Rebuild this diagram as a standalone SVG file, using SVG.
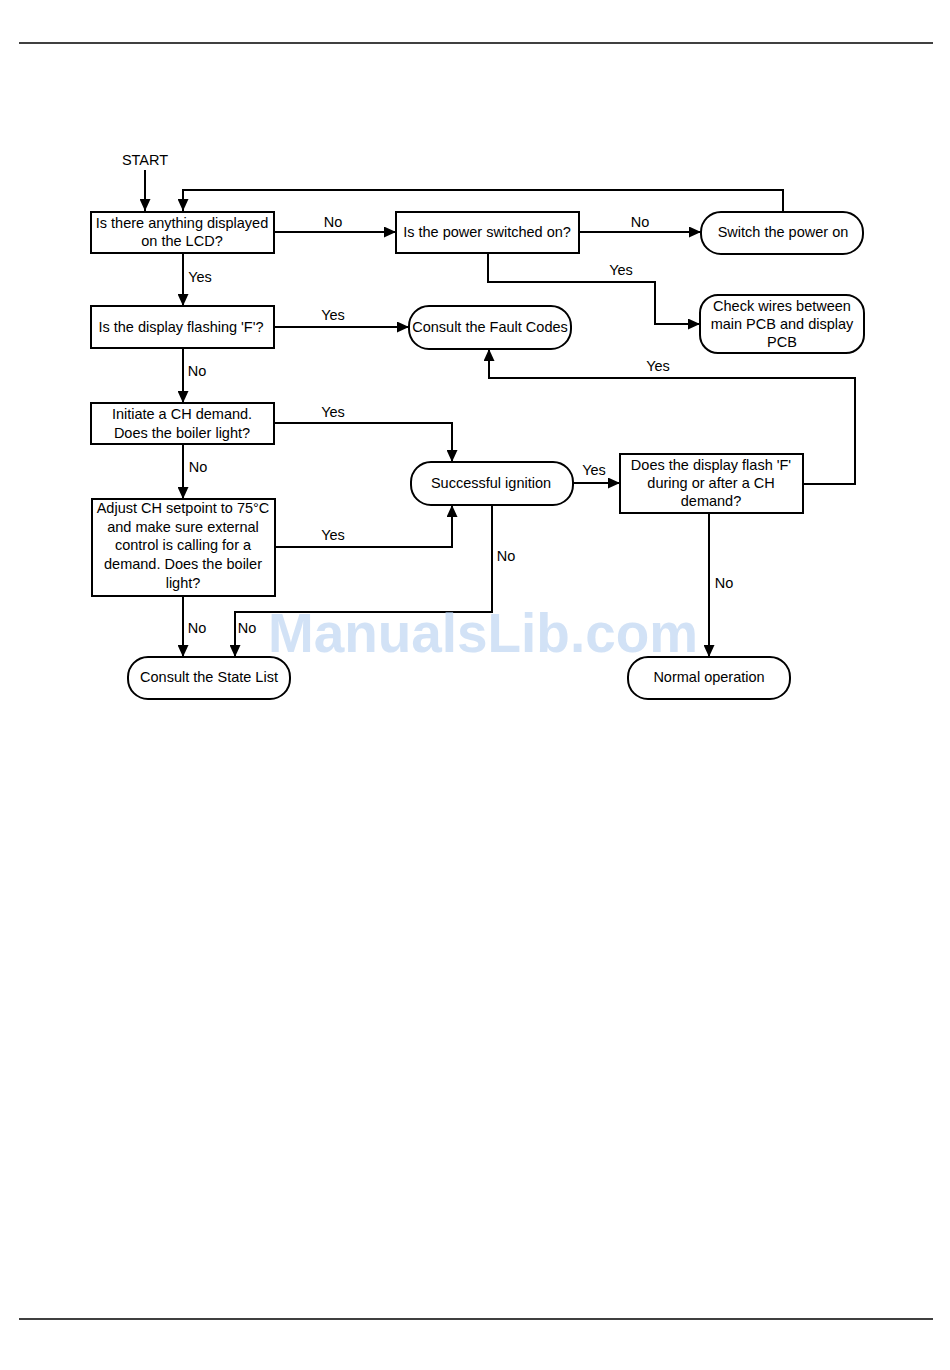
<svg xmlns="http://www.w3.org/2000/svg" width="950" height="1370" viewBox="0 0 950 1370">
<defs>
<marker id="ah" viewBox="0 0 12 11" refX="12" refY="5.5" markerWidth="12" markerHeight="11" markerUnits="userSpaceOnUse" orient="auto">
<path d="M0,0 L12,5.5 L0,11 Z" fill="#000"/>
</marker>
</defs>
<style>
.box{fill:#fff;stroke:#000;stroke-width:2}
.t{font-family:"Liberation Sans",Arial,sans-serif;font-size:14.5px;fill:#000;text-anchor:middle;dominant-baseline:central}
.c{fill:none;stroke:#000;stroke-width:2;marker-end:url(#ah)}
.ln{fill:none;stroke:#000;stroke-width:1.5}
</style>
<rect width="950" height="1370" fill="#fff"/>
<line class="ln" x1="19" y1="43" x2="933" y2="43"/>
<line class="ln" x1="19" y1="1319" x2="933" y2="1319"/>

<g id="connectors">
<path class="c" d="M145,170 V211"/>
<path class="c" d="M783,212 V190 H183 V211"/>
<path class="c" d="M274,232 H396"/>
<path class="c" d="M579,232 H701"/>
<path class="c" d="M488,253 V282 H655 V324 H700"/>
<path class="c" d="M183,253 V306"/>
<path class="c" d="M274,327 H409"/>
<path class="c" d="M803,484 H855 V378 H489 V349"/>
<path class="c" d="M183,348 V403"/>
<path class="c" d="M274,423 H452 V462"/>
<path class="c" d="M183,444 V499"/>
<path class="c" d="M275,547 H452 V505"/>
<path class="c" d="M573,483 H620"/>
<path class="c" d="M709,513 V657"/>
<path class="c" d="M492,505 V612 H235 V657"/>
<path class="c" d="M183,596 V657"/>
<text class="t" x="333" y="222">No</text>
<text class="t" x="640" y="222">No</text>
<text class="t" x="621" y="270">Yes</text>
<text class="t" x="200" y="277">Yes</text>
<text class="t" x="333" y="315">Yes</text>
<text class="t" x="658" y="366">Yes</text>
<text class="t" x="197" y="371">No</text>
<text class="t" x="333" y="412">Yes</text>
<text class="t" x="198" y="467">No</text>
<text class="t" x="333" y="535">Yes</text>
<text class="t" x="594" y="470">Yes</text>
<text class="t" x="506" y="556">No</text>
<text class="t" x="724" y="583">No</text>
<text class="t" x="197" y="628">No</text>
<text class="t" x="247" y="628">No</text>
</g>

<g id="start"><text class="t" x="145" y="160">START</text></g>

<g id="q-lcd">
<rect class="box" x="91" y="212" width="183" height="41"/>
<text class="t" x="182" y="223">Is there anything displayed</text>
<text class="t" x="182" y="241">on the LCD?</text>
</g>
<g id="q-power">
<rect class="box" x="396" y="212" width="183" height="41"/>
<text class="t" x="487" y="232">Is the power switched on?</text>
</g>
<g id="switch-on">
<rect class="box" x="701" y="212" width="162" height="42" rx="20"/>
<text class="t" x="783" y="232">Switch the power on</text>
</g>
<g id="check-wires">
<rect class="box" x="700" y="295" width="164" height="58" rx="18"/>
<text class="t" x="782" y="306">Check wires between</text>
<text class="t" x="782" y="324">main PCB and display</text>
<text class="t" x="782" y="342">PCB</text>
</g>
<g id="q-flashing">
<rect class="box" x="91" y="306" width="183" height="42"/>
<text class="t" x="181" y="327">Is the display flashing 'F'?</text>
</g>
<g id="fault-codes">
<rect class="box" x="409" y="306" width="162" height="43" rx="20"/>
<text class="t" x="490" y="327">Consult the Fault Codes</text>
</g>
<g id="q-ch">
<rect class="box" x="91" y="403" width="183" height="41"/>
<text class="t" x="182" y="414">Initiate a CH demand.</text>
<text class="t" x="182" y="433">Does the boiler light?</text>
</g>
<g id="q-adjust">
<rect class="box" x="92" y="499" width="183" height="97"/>
<text class="t" x="183" y="508">Adjust CH setpoint to 75°C</text>
<text class="t" x="183" y="527">and make sure external</text>
<text class="t" x="183" y="545">control is calling for a</text>
<text class="t" x="183" y="564">demand. Does the boiler</text>
<text class="t" x="183" y="583">light?</text>
</g>
<g id="ignition">
<rect class="box" x="411" y="462" width="162" height="43" rx="20"/>
<text class="t" x="491" y="483">Successful ignition</text>
</g>
<g id="q-flash-ch">
<rect class="box" x="620" y="454" width="183" height="59"/>
<text class="t" x="711" y="465">Does the display flash 'F'</text>
<text class="t" x="711" y="483">during or after a CH</text>
<text class="t" x="711" y="501">demand?</text>
</g>
<g id="state-list">
<rect class="box" x="128" y="657" width="162" height="42" rx="20"/>
<text class="t" x="209" y="677">Consult the State List</text>
</g>
<g id="normal">
<rect class="box" x="628" y="657" width="162" height="42" rx="20"/>
<text class="t" x="709" y="677">Normal operation</text>
</g>

<text x="268" y="652" font-family="Liberation Sans,Arial,sans-serif" font-weight="bold" font-size="55" fill="#b4cff0" fill-opacity="0.6" textLength="430" lengthAdjust="spacingAndGlyphs">ManualsLib.com</text>
</svg>
